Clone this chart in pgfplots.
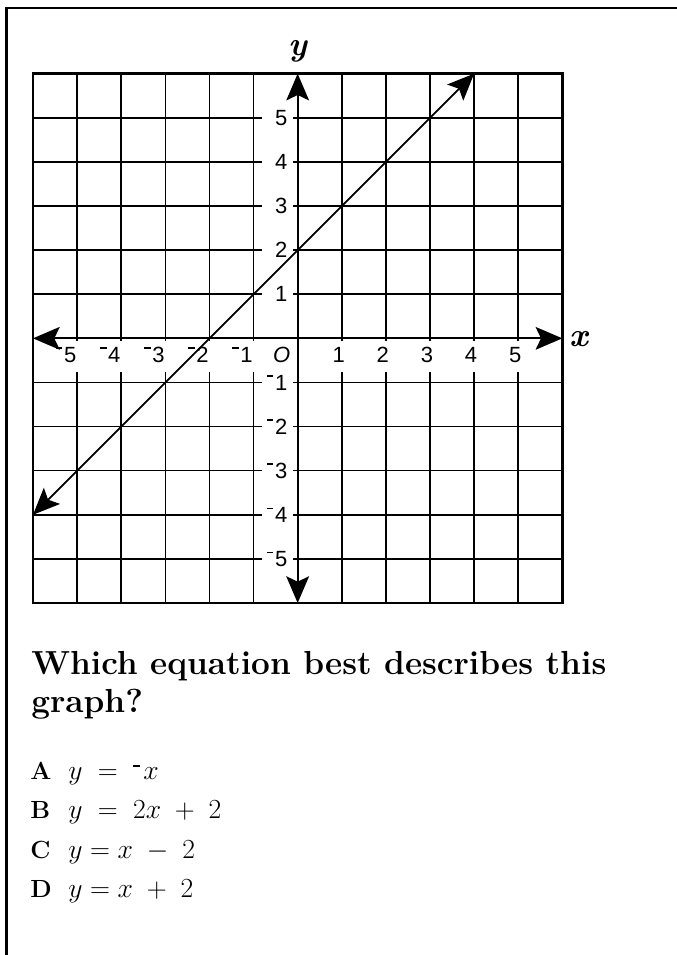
\documentclass[border=0pt]{standalone}
\usepackage{fontspec}
\newfontfamily\lab{Liberation Sans}
\usepackage{pgfplots}
\pgfplotsset{compat=1.18}
\usetikzlibrary{arrows.meta}
\newcommand\nm{\rule[0.6em]{0.3em}{0.075em}\kern0.07em}
\newcommand\mnm{\rule[0.95ex]{0.25em}{0.06em}\kern0.1em}
\tikzset{st/.style={line width=#1,{Stealth[length=20pt,width=17pt,inset=4pt]}-{Stealth[length=20pt,width=17pt,inset=4pt]}},
  tl/.style={inner sep=0pt,font=\lab\fontsize{16.5}{16.5}\selectfont}}
\begin{document}
\begin{tikzpicture}
\path[use as bounding box] (0,0) rectangle (507.75pt,-716.25pt);
\draw[line width=1.9pt] (507.75pt,-6pt) -- (4.9pt,-6pt) -- (4.9pt,-716.25pt);
\begin{axis}[
 at={(24.75pt,-452.25pt)}, anchor=south west,
 scale only axis, width=397pt, height=397pt,
 xmin=-6,xmax=6,ymin=-6,ymax=6,
 xtick={-6,...,6}, ytick={-6,...,6},
 xticklabels={}, yticklabels={},
 major tick length=0pt,
 grid=major, grid style={line width=1.15pt, black},
 axis line style={line width=2.2pt},
 clip=false,
]
\fill[white] (axis cs:-5.6,-0.05) rectangle (axis cs:5.4,-0.764);
\fill[white] (axis cs:-0.80,-5.5) rectangle (axis cs:-0.107,5.5);
\pgfplotsinvokeforeach{1,...,5}{
  \node[tl,anchor=east] at (axis cs:-0.23,#1) {#1};
  \node[tl,anchor=east] at (axis cs:-0.23,-#1) {\nm#1};
  \node[tl,anchor=north] at (axis cs:#1-0.07,-0.19) {#1};
  \node[tl,anchor=north] at (axis cs:-#1-0.25,-0.19) {\nm#1};
}
\node[tl,anchor=north,font=\lab\itshape\fontsize{16.5}{16.5}\selectfont] at (axis cs:-0.36,-0.19) {O};
\draw[st=1.5pt] (axis cs:-6,0) -- (axis cs:6,0);
\draw[st=1.5pt] (axis cs:0,-6) -- (axis cs:0,6);
\addplot[st=1.3pt, black] coordinates {(-6,-4) (4,6)};
\node[anchor=base,inner sep=0pt,font=\fontsize{25}{25}\selectfont\bfseries\itshape] at (axis cs:6.37,-0.19) {x};
\node[anchor=base,inner sep=0pt,font=\fontsize{25}{25}\selectfont\bfseries\itshape] at (axis cs:0,6.42) {y};
\end{axis}
\begin{scope}[every node/.style={anchor=base west,inner sep=0pt}]
\node[font=\fontsize{25}{28}\selectfont\bfseries] at (23.25pt,-505.5pt) {Which equation best describes this};
\node[font=\fontsize{25}{28}\selectfont\bfseries] at (23.25pt,-534pt) {graph?};
\node[font=\fontsize{18.6}{20}\selectfont\bfseries] at (22.5pt,-584.25pt) {A};
\node[font=\fontsize{18.6}{20}\selectfont\bfseries] at (22.5pt,-613.5pt) {B};
\node[font=\fontsize{18.6}{20}\selectfont\bfseries] at (22.5pt,-643.5pt) {C};
\node[font=\fontsize{18.6}{20}\selectfont\bfseries] at (22.5pt,-672.75pt) {D};
\node[font=\fontsize{22}{22}\selectfont] at (51pt,-584.25pt) {$y \;=\; \mnm x$};
\node[font=\fontsize{22}{22}\selectfont] at (51pt,-613.5pt) {$y \;=\; 2x \;+\; 2$};
\node[font=\fontsize{22}{22}\selectfont] at (51pt,-643.5pt) {$y = x \;-\; 2$};
\node[font=\fontsize{22}{22}\selectfont] at (51pt,-672.75pt) {$y = x \;+\; 2$};
\end{scope}
\end{tikzpicture}
\end{document}
